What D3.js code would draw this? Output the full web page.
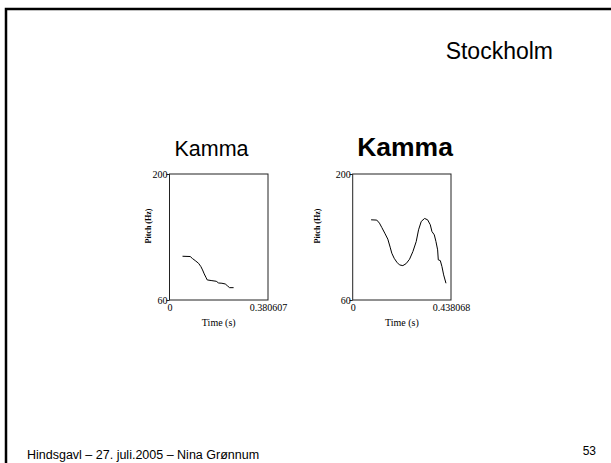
<!DOCTYPE html>
<html>
<head>
<meta charset="utf-8">
<style>
body { margin: 0; background: #fff; }
svg text { fill: #000; }
.slide { font-family: "Liberation Sans", Arial, sans-serif; }
.ax { font-family: "Liberation Serif", "Times New Roman", serif; font-size: 10px; }
</style>
</head>
<body>
<script src="https://cdn.jsdelivr.net/npm/d3@7"></script>
<script>
// left: plain "Kamma"
var leftTime = [0.0503, 0.0800, 0.0890, 0.0993, 0.1122, 0.1213, 0.1277, 0.1342, 0.1406, 0.1458,
                0.1639, 0.1806, 0.1897, 0.2026, 0.2155, 0.2245, 0.2322, 0.2477];
var leftPitch = [108.6, 108.3, 106.0, 103.8, 100.8, 97.1, 93.4, 89.0, 85.3, 82.3,
                 81.5, 80.8, 78.9, 78.6, 77.8, 75.6, 73.7, 73.7];
// right: emphasised "Kamma"
var rightTime = [0.0820, 0.1073, 0.1192, 0.1296, 0.1445, 0.1565, 0.1669, 0.1743, 0.1848, 0.1967,
                 0.2086, 0.2235, 0.2384, 0.2533, 0.2682, 0.2831, 0.2935, 0.3055, 0.3204, 0.3338,
                 0.3457, 0.3531, 0.3636, 0.3710, 0.3785, 0.3814, 0.3904, 0.3978, 0.4053, 0.4157];
var rightPitch = [149.1, 148.8, 145.4, 140.6, 133.5, 127.6, 118.7, 112.0, 106.4, 102.0,
                  99.0, 98.2, 100.5, 105.3, 113.8, 125.0, 138.0, 147.3, 150.6, 149.1,
                  143.6, 136.1, 132.4, 125.0, 115.7, 104.6, 103.8, 97.1, 87.9, 78.6];
var pitchTicks = [60, 200];
var leftTimeTicks = [0, 0.380607];
var rightTimeTicks = [0, 0.438068];

var W = 611, H = 463;
var svg = d3.select("body").append("svg")
    .attr("width", W)
    .attr("height", H);

// slide frame
svg.append("path")
    .attr("d", "M6," + H + "V9H" + W)
    .attr("fill", "none")
    .attr("stroke", "#000")
    .attr("stroke-width", 2.5);

svg.append("text").attr("class", "slide")
    .attr("x", 553).attr("y", 59)
    .attr("text-anchor", "end")
    .style("font-size", "23px")
    .text("Stockholm");

svg.append("text").attr("class", "slide")
    .attr("x", 211.5).attr("y", 156)
    .attr("text-anchor", "middle")
    .style("font-size", "21.5px")
    .text("Kamma");

svg.append("text").attr("class", "slide")
    .attr("x", 405).attr("y", 156)
    .attr("text-anchor", "middle")
    .style("font-size", "26.5px")
    .style("font-weight", "bold")
    .text("Kamma");

svg.append("text").attr("class", "slide")
    .attr("x", 27).attr("y", 459)
    .style("font-size", "12.5px")
    .text("Hindsgavl \u2013 27. juli.2005 \u2013 Nina Gr\u00f8nnum");

svg.append("text").attr("class", "slide")
    .attr("x", 596).attr("y", 455)
    .attr("text-anchor", "end")
    .style("font-size", "12px")
    .text("53");

function pitchPanel(x0, x1, times, pitches, timeTicks, labelX) {
  var top = 174, bottom = 300;
  var x = d3.scaleLinear().domain([0, timeTicks[1]]).range([x0, x1]);
  var y = d3.scaleLinear().domain([pitchTicks[0], pitchTicks[1]]).range([bottom, top]);
  var g = svg.append("g").attr("class", "ax");

  g.append("rect")
      .attr("x", x0).attr("y", top)
      .attr("width", x1 - x0).attr("height", bottom - top)
      .attr("fill", "none")
      .attr("stroke", "#222")
      .attr("stroke-width", 1);

  var yAxis = d3.axisLeft(y).tickValues(pitchTicks).tickSize(3).tickFormat(d3.format("d"));
  var ya = g.append("g").attr("transform", "translate(" + x0 + ",0)").call(yAxis);
  ya.select(".domain").remove();
  ya.selectAll("line").attr("stroke", "#222");
  ya.selectAll("text").attr("x", -2).attr("dy", "0.32em")
      .style("font-family", "Liberation Serif, serif").style("font-size", "10px").attr("fill", "#000");

  var xAxis = d3.axisBottom(x).tickValues(timeTicks).tickSize(0)
      .tickFormat(function(d) { return d === 0 ? "0" : String(d); });
  var xa = g.append("g").attr("transform", "translate(0," + bottom + ")").call(xAxis);
  xa.select(".domain").remove();
  xa.selectAll("text").attr("y", 4)
      .style("font-family", "Liberation Serif, serif").style("font-size", "10px").attr("fill", "#000");

  g.append("text")
      .attr("x", (x0 + x1) / 2).attr("y", 326)
      .attr("text-anchor", "middle")
      .text("Time (s)");

  g.append("text")
      .attr("transform", "translate(" + labelX + "," + 226 + ") rotate(-90)")
      .attr("text-anchor", "middle")
      .attr("dy", "0.35em")
      .style("font-size", "8px")
      .style("font-weight", "bold")
      .text("Pitch (Hz)");

  var line = d3.line()
      .x(function(d, i) { return x(times[i]); })
      .y(function(d) { return y(d); })
      .curve(d3.curveLinear);

  g.append("path")
      .datum(pitches)
      .attr("d", line)
      .attr("fill", "none")
      .attr("stroke", "#000")
      .attr("stroke-width", 1);
}

pitchPanel(169.5, 268, leftTime, leftPitch, leftTimeTicks, 148);
pitchPanel(352.7, 451, rightTime, rightPitch, rightTimeTicks, 317);
</script>
</body>
</html>
